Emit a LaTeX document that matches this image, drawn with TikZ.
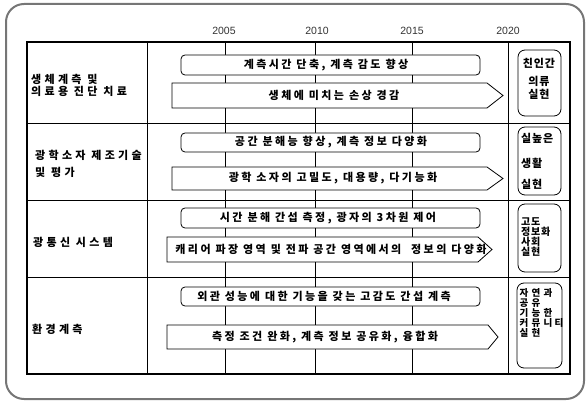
\documentclass[tikz,border=0pt]{standalone}
\usepackage{fontspec}
\setmainfont{Liberation Sans}
\newfontfamily\kr[LetterSpace=22]{Noto Sans CJK KR}
\newfontfamily\krl[LetterSpace=30]{Noto Sans CJK KR}
\newfontfamily\krn[LetterSpace=8]{Noto Sans CJK KR}
\newfontfamily\krw[LetterSpace=22]{Noto Sans CJK KR}
\newfontfamily\yr{Liberation Sans}
\definecolor{framegray}{HTML}{767676}
\definecolor{yeargray}{HTML}{333333}
\begin{document}
\begin{tikzpicture}[x=1pt,y=-1pt,
  frame/.style={draw=framegray,line width=2pt,rounded corners=18pt},
  grid/.style={draw=black,line width=0.8pt},
  outer/.style={draw=black,line width=1.8pt},
  rbox/.style={draw=black,line width=0.8pt,fill=white,rounded corners=4pt},
  abox/.style={draw=black,line width=0.8pt,fill=white},
  gbox/.style={draw=black,line width=0.8pt,fill=white,rounded corners=7pt},
  kt/.style={font=\kr\bfseries\fontsize{11}{12}\selectfont,inner sep=0pt,text=black},
  lt/.style={inner sep=0pt,text=black,anchor=west,align=left},
  gt/.style={font=\krn\bfseries\fontsize{11}{12}\selectfont,inner sep=0pt,text=black},
  st/.style={font=\krn\bfseries\fontsize{9.5}{10}\selectfont,inner sep=0pt,text=black},
  yt/.style={font=\yr\fontsize{10.5}{12}\selectfont,inner sep=0pt,text=yeargray},
]
\useasboundingbox (0,0) rectangle (586,403);
\draw[frame] (6,4) rectangle (584,399);

% years
\node[yt] (y2005) at (224,31) {2005};
\node[yt] (y2010) at (317,31) {2010};
\node[yt] (y2015) at (412,31) {2015};
\node[yt] (y2020) at (508,31) {2020};

% grid lines
\foreach \x in {147,225,315,412,508} \draw[grid] (\x,42) -- (\x,374);
\foreach \y in {123,200,277} \draw[grid] (27,\y) -- (570,\y);
\draw[outer] (27,42) rectangle (570,374);

% left column
\node[lt,font=\krl\bfseries\fontsize{11}{11.5}\selectfont] (l1) at (31,85.5) {생체계측 및\\의료용 진단 치료};
\node[lt,font=\krl\bfseries\fontsize{11}{17}\selectfont] (l2) at (35,163.5) {광학소자 제조기술\\및 평가};
\node[lt,font=\krl\bfseries\fontsize{11}{12}\selectfont] (l3) at (33,242) {광통신 시스템};
\node[lt,font=\krl\bfseries\fontsize{11}{12}\selectfont] (l4) at (32,329) {환경계측};

% row 1
\draw[rbox] (181,55) rectangle (480,75);
\node[kt] (r1a) at (326,65) {계측시간 단축, 계측 감도 향상};
\draw[abox] (172,83) -- (487,83) -- (503,95.5) -- (487,108) -- (172,108) -- cycle;
\node[kt] (r1b) at (334,95.5) {생체에 미치는 손상 경감};

% row 2
\draw[rbox] (181,133) rectangle (480,152);
\node[kt] (r2a) at (331,142.5) {공간 분해능 향상, 계측 정보 다양화};
\draw[abox] (172,167) -- (487,167) -- (503,178.5) -- (487,190) -- (172,190) -- cycle;
\node[kt] (r2b) at (333,178.5) {광학 소자의 고밀도, 대용량, 다기능화};

% row 3
\draw[rbox] (181,208) rectangle (480,228);
\node[kt] (r3a) at (328,218) {시간 분해 간섭 측정, 광자의 3차원 제어};
\draw[abox] (167,237) -- (478,237) -- (492,249.5) -- (478,262) -- (167,262) -- cycle;
\node[kt,font=\krw\bfseries\fontsize{11}{12}\selectfont] (r3b) at (331,249.5) {캐리어 파장 영역 및 전파 공간 영역에서의\ \ 정보의 다양화};

% row 4
\draw[rbox] (181,287) rectangle (480,306);
\node[kt] (r4a) at (324,296.5) {외관 성능에 대한 기능을 갖는 고감도 간섭 계측};
\draw[abox] (167,325) -- (488,325) -- (498,337) -- (488,349) -- (167,349) -- cycle;
\node[kt] (r4b) at (325,337) {측정 조건 완화, 계측 정보 공유화, 융합화};

% right column
\draw[gbox] (518,50) rectangle (561,116);
\node[gt] (g1a) at (539,63) {친인간};
\node[gt] (g1b) at (539,81) {의류};
\node[gt] (g1c) at (539,94) {실현};

\draw[gbox] (518,127) rectangle (561,195);
\node[gt,anchor=west] (g2a) at (521,138) {실높은};
\node[gt,anchor=west] (g2b) at (521,163) {생활};
\node[gt,anchor=west] (g2c) at (521,184) {실현};

\draw[gbox] (518,204) rectangle (561,272);
\node[gt,font=\krn\bfseries\fontsize{10}{11}\selectfont,anchor=west] (g3a) at (521,222) {고도};
\node[gt,font=\krn\bfseries\fontsize{10}{11}\selectfont,anchor=west] (g3b) at (521,232) {정보화};
\node[gt,font=\krn\bfseries\fontsize{10}{11}\selectfont,anchor=west] (g3c) at (521,242) {사회};
\node[gt,font=\krn\bfseries\fontsize{10}{11}\selectfont,anchor=west] (g3d) at (521,252) {실현};

\draw[gbox] (517,283) rectangle (562,368);
\node[st] (c11) at (524,293) {자};
\node[st] (c12) at (524,303) {공};
\node[st] (c13) at (524,313) {기};
\node[st] (c14) at (524,323) {커};
\node[st] (c15) at (524,333) {실};
\node[st] (c21) at (536,293) {연};
\node[st] (c22) at (536,303) {유};
\node[st] (c23) at (536,313) {능};
\node[st] (c24) at (536,323) {뮤};
\node[st] (c25) at (536,333) {현};
\node[st] (c31) at (548,293) {과};
\node[st] (c33) at (548,313) {한};
\node[st] (c34) at (548,323) {니};
\node[st] (c44) at (559,323) {티};
\end{tikzpicture}
\end{document}
